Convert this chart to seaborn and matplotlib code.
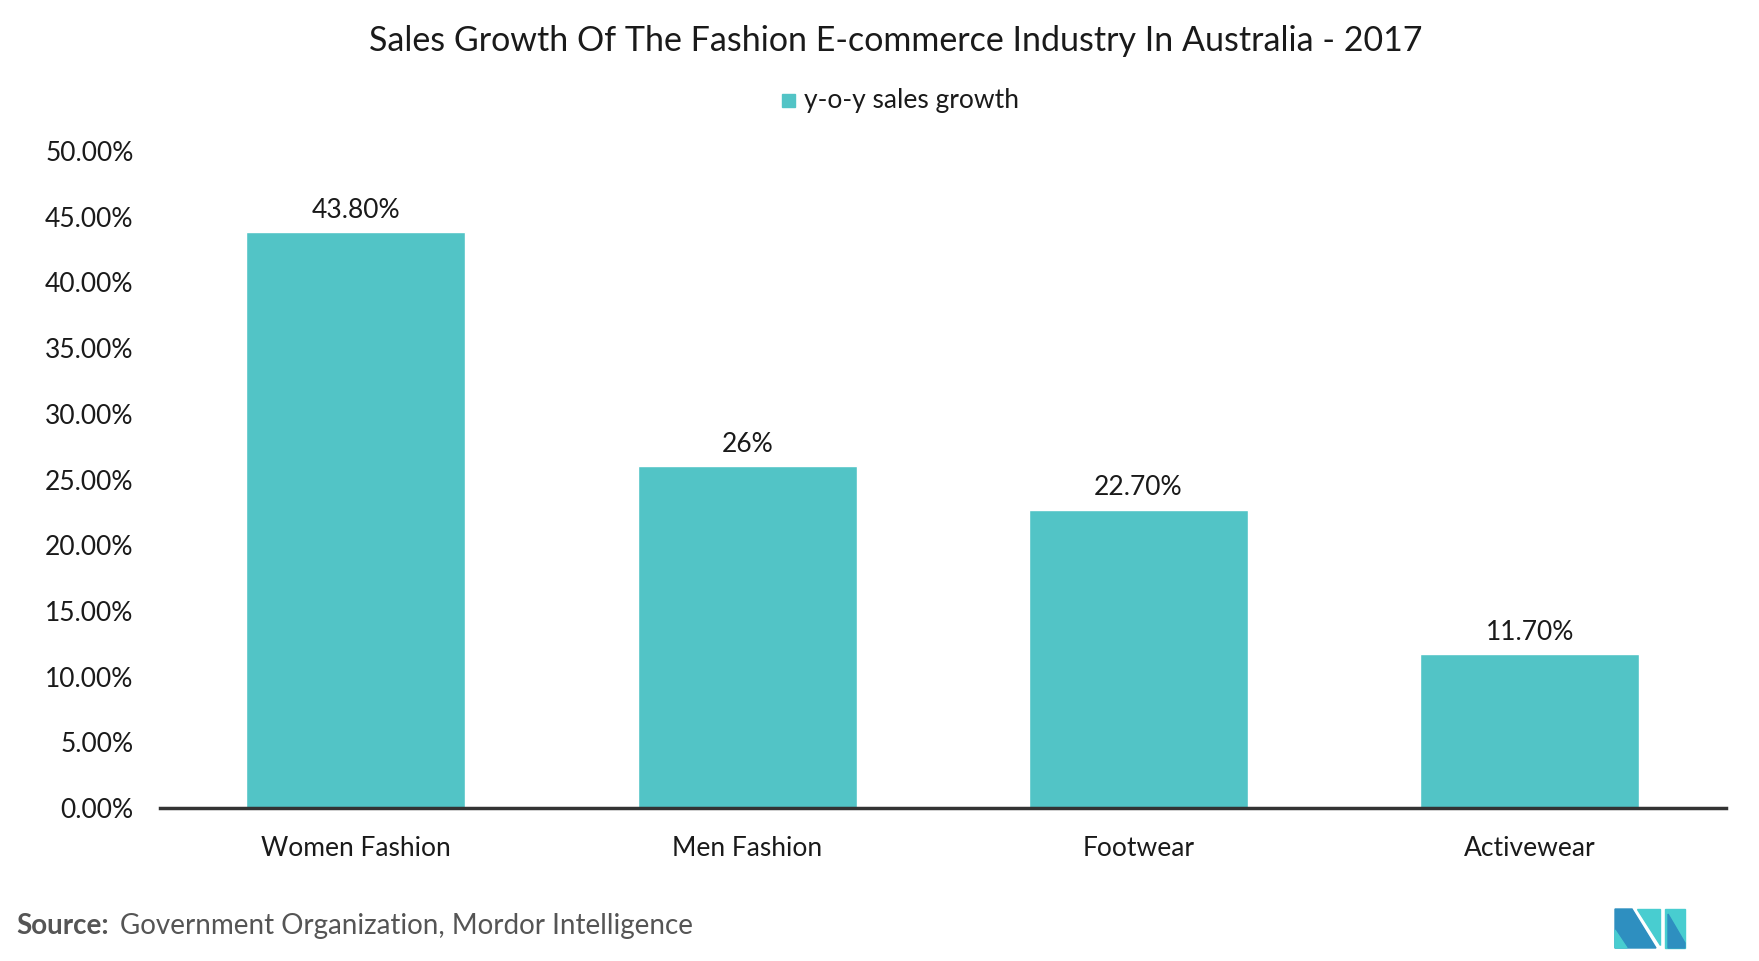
import matplotlib
matplotlib.use("Agg")
import matplotlib.pyplot as plt
import seaborn as sns
import pandas as pd
from matplotlib.patches import Polygon

categories = ["Women Fashion", "Men Fashion", "Footwear", "Activewear"]
values = [43.8, 26.0, 22.7, 11.7]
value_labels = ["43.80%", "26%", "22.70%", "11.70%"]
series_name = "y-o-y sales growth"
yticks = [0, 5, 10, 15, 20, 25, 30, 35, 40, 45, 50]

sns.set_theme(style="white")
plt.rcParams['font.family'] = ['Lato', 'DejaVu Sans']

df = pd.DataFrame({"category": categories, "value": values, "series": series_name})

fig = plt.figure(figsize=(17.59, 9.61), dpi=100)
ax = fig.add_axes([0.091, 0.159, 0.890, 0.684])
color = "#52C4C6"
sns.barplot(data=df, x="category", y="value", hue="series", palette=[color],
            width=0.56, ax=ax, legend=False, saturation=1)

ax.set_ylim(0, 50)
ax.set_xlim(-0.5, 3.5)
ax.set_yticks(yticks)
ax.set_yticklabels([f"{v:.2f}%" for v in yticks], fontsize=19, color="#1a1a1a")
ax.tick_params(axis="x", labelsize=19, colors="#1a1a1a", pad=20, length=0)
ax.tick_params(axis="y", length=0, pad=19)
for lbl in ax.get_yticklabels():
    lbl.set_horizontalalignment("right")
ax.set_xlabel("")
ax.set_ylabel("")
for s in ["top", "right", "left"]:
    ax.spines[s].set_visible(False)
ax.spines["bottom"].set_color("#333333")
ax.spines["bottom"].set_linewidth(2.5)

for i, (v, t) in enumerate(zip(values, value_labels)):
    ax.annotate(t, (i, v), xytext=(0, 7), textcoords="offset points",
                ha="center", va="bottom", fontsize=19, color="#1a1a1a")

fig.text(0.509, 0.957, "Sales Growth Of The Fashion E-commerce Industry In Australia - 2017",
         ha="center", va="center", fontsize=24.5, color="#1a1a1a")

# legend
fig.patches.append(plt.Rectangle((0.4446, 0.889), 0.0075, 0.0135, transform=fig.transFigure,
                                 color=color))
fig.text(0.457, 0.895, series_name, ha="left", va="center", fontsize=19, color="#1a1a1a")

# source
fig.text(0.009, 0.036, "Source:", ha="left", va="center", fontsize=20, color="#555555",
         fontweight="bold")
fig.text(0.0682, 0.036, "Government Organization, Mordor Intelligence", ha="left", va="center",
         fontsize=20, color="#555555")

# logo
def fx(px): return px / 1759
def fy(py): return 1 - py / 961
dark = "#2E8FC0"
light = "#48CDD0"
polys = [
    ([(1615, 909), (1632, 909), (1656, 948), (1615, 948)], dark),
    ([(1615, 930), (1627, 948), (1615, 948)], light),
    ([(1637, 909), (1660, 909), (1660, 945)], light),
    ([(1665, 909), (1685, 909), (1685, 948), (1665, 948)], light),
    ([(1668, 914), (1685, 943), (1685, 948), (1668, 948)], dark),
]
for pts, c in polys:
    fig.patches.append(Polygon([(fx(x), fy(y)) for x, y in pts], closed=True,
                               transform=fig.transFigure, color=c))

fig.savefig("out.png", dpi=100)
